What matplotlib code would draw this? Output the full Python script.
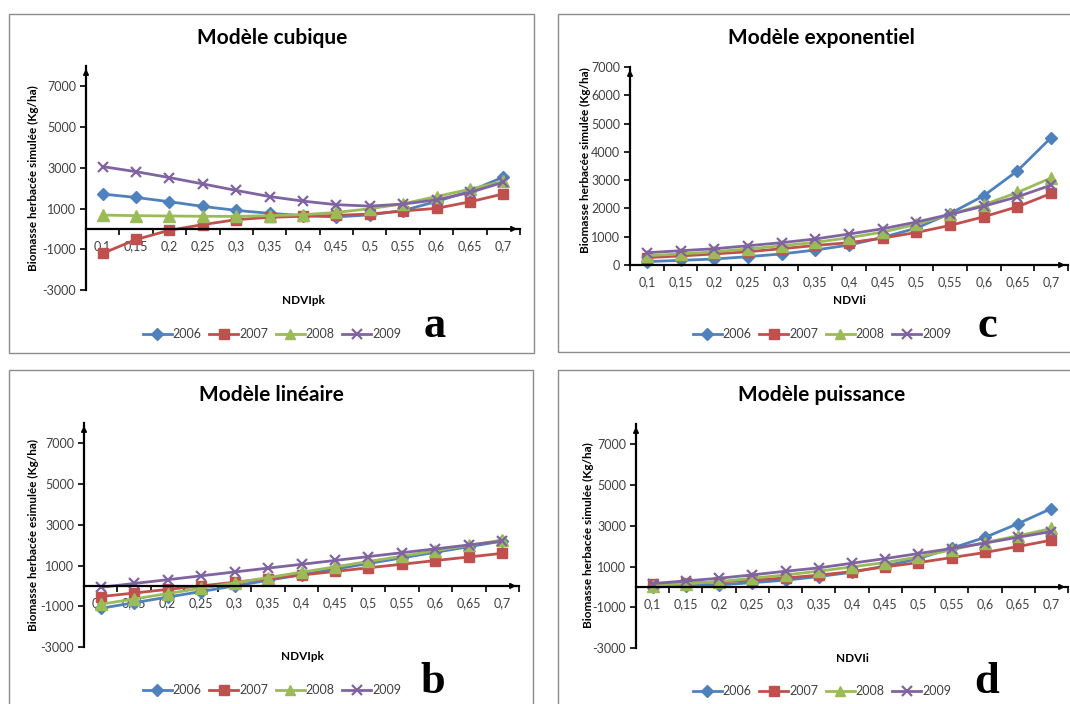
import numpy as np
import matplotlib
matplotlib.use("Agg")
import matplotlib.pyplot as plt
from matplotlib.patches import Rectangle

plt.rcParams['font.family'] = ['Lato', 'DejaVu Sans']

# Data
ndvi_labels = ["0,1", "0,15", "0,2", "0,25", "0,3", "0,35", "0,4",
               "0,45", "0,5", "0,55", "0,6", "0,65", "0,7"]
years = ["2006", "2007", "2008", "2009"]

# a - cubic model (NDVIpk)
cub_2006 = [1710, 1545, 1335, 1105, 910, 765, 650, 590, 690, 900, 1350, 1850, 2550]
cub_2007 = [-1200, -520, -65, 210, 455, 570, 620, 665, 730, 880, 1010, 1330, 1720]
cub_2008 = [680, 650, 635, 620, 615, 650, 700, 810, 990, 1235, 1590, 1950, 2330]
cub_2009 = [3060, 2810, 2520, 2210, 1890, 1590, 1365, 1190, 1120, 1220, 1430, 1790, 2290]

# b - linear model (NDVIpk)
lin_2006 = [-1100, -825, -550, -275, 0, 275, 550, 825, 1100, 1375, 1650, 1925, 2200]
lin_2007 = [-525, -350, -170, 0, 180, 360, 535, 710, 890, 1065, 1245, 1420, 1600]
lin_2008 = [-900, -640, -375, -115, 150, 410, 675, 935, 1200, 1460, 1725, 1990, 2250]
lin_2009 = [-70, 120, 305, 495, 685, 875, 1060, 1250, 1440, 1630, 1820, 2010, 2200]

# c - exponential model (NDVIi)
exp_2006 = [120, 165, 210, 295, 390, 530, 705, 975, 1305, 1820, 2450, 3330, 4505]
exp_2007 = [260, 320, 390, 470, 575, 690, 790, 950, 1150, 1400, 1705, 2060, 2530]
exp_2008 = [330, 390, 470, 565, 680, 800, 965, 1165, 1435, 1790, 2130, 2565, 3080]
exp_2009 = [435, 505, 575, 680, 790, 920, 1095, 1280, 1520, 1790, 2080, 2410, 2825]

# d - power model (NDVIi)
pow_2006 = [0, 50, 100, 210, 330, 510, 720, 1030, 1390, 1900, 2430, 3110, 3850]
pow_2007 = [130, 180, 245, 330, 440, 575, 755, 985, 1195, 1440, 1690, 1985, 2295]
pow_2008 = [50, 165, 260, 425, 590, 770, 985, 1195, 1475, 1820, 2180, 2510, 2870]
pow_2009 = [165, 295, 425, 590, 770, 935, 1165, 1390, 1640, 1885, 2150, 2440, 2720]

colors = ["#4F81BD", "#C0504D", "#9BBB59", "#8064A2"]
markers = ["D", "s", "^", "x"]
msizes = [6.5, 7.5, 8, 7.5]
label_col = "#404040"

W, H = 1070, 704
fig = plt.figure(figsize=(W / 100, H / 100), dpi=100)


def fx(x):
    return x / W


def fy(y):
    return 1 - y / H


def panel(box, axbox, title, title_xy, series, ylim, yticks, ylabel,
          xlabel, xlabel_xy, ylabel_xy, legend_xy, letter, letter_xy):
    bl, bt, br, bb = box
    fig.patches.append(Rectangle((fx(bl), fy(bb)), fx(br - bl), (bb - bt) / H,
                                 transform=fig.transFigure, fill=False,
                                 edgecolor="#8c8c8c", lw=1.0))
    l, r, t, b = axbox
    ax = fig.add_axes([fx(l), fy(b), fx(r - l), (b - t) / H])
    x = np.arange(len(ndvi_labels))
    for vals, yr, c, m, ms in zip(series, years, colors, markers, msizes):
        ax.plot(x, vals, color=c, lw=2, marker=m, ms=ms, mew=1.6 if m == "x" else 1,
                mec=c, label=yr, clip_on=False)
    ax.set_xlim(-0.5, len(ndvi_labels) - 0.5)
    ax.set_ylim(*ylim)
    ax.set_yticks(yticks)
    ax.set_yticklabels([str(v) for v in yticks])
    ax.set_xticks(x)
    ax.set_xticklabels(ndvi_labels)
    ax.set_xticks(np.arange(-0.5, len(ndvi_labels)), minor=True)
    for s in ["top", "right"]:
        ax.spines[s].set_visible(False)
    ax.spines["bottom"].set_position(("data", 0))
    ax.spines["left"].set_linewidth(1.6)
    ax.spines["bottom"].set_linewidth(1.6)
    ax.tick_params(axis="x", which="major", length=0, pad=8, labelsize=9,
                   labelcolor=label_col)
    ax.tick_params(axis="x", which="minor", length=4, width=1.2, direction="out")
    ax.tick_params(axis="y", length=4, width=1.2, pad=3, labelsize=9,
                   labelcolor=label_col)
    ax.set_facecolor("none")
    # arrow heads on axes
    ax.annotate("", xy=(0, 1.0), xytext=(0, 0.96), xycoords="axes fraction",
                arrowprops=dict(arrowstyle="-|>", color="black", lw=1.2,
                                mutation_scale=8))
    ax.annotate("", xy=(1.0, 0), xytext=(0.97, 0), xycoords=ax.get_yaxis_transform(),
                arrowprops=dict(arrowstyle="-|>", color="black", lw=1.2,
                                mutation_scale=8))
    fig.text(fx(title_xy[0]), fy(title_xy[1]), title, ha="center", va="center",
             fontsize=15, fontweight="bold")
    fig.text(fx(ylabel_xy[0]), fy(ylabel_xy[1]), ylabel, ha="center", va="center",
             rotation=90, fontsize=8.5, fontweight="bold")
    fig.text(fx(xlabel_xy[0]), fy(xlabel_xy[1]), xlabel, ha="center", va="center",
             fontsize=8.5, fontweight="bold")
    fig.text(fx(letter_xy[0]), fy(letter_xy[1]), letter, ha="center", va="baseline",
             fontsize=32, fontweight="bold", family="Liberation Serif")
    ax.legend(loc="center", bbox_to_anchor=(fx(legend_xy[0]), fy(legend_xy[1])),
              bbox_transform=fig.transFigure, ncol=4, frameon=False,
              fontsize=9, labelcolor=label_col, handlelength=2.3,
              handletextpad=0.1, columnspacing=0.6, markerscale=0.9)
    return ax


ylab_sim = "Biomasse herbacée simulée (Kg/ha)"
ylab_esim = "Biomasse herbacée esimulée (Kg/ha)"
yt_wide = [-3000, -1000, 1000, 3000, 5000, 7000]

panel((9, 14, 534, 353), (86, 520, 66, 290), "Modèle cubique", (272, 38),
      [cub_2006, cub_2007, cub_2008, cub_2009], (-3000, 8000), yt_wide, ylab_sim,
      "NDVIpk", (303, 300), (33, 178), (272, 334), "a", (435, 337))

panel((558, 14, 1075, 352), (630, 1068, 67, 265), "Modèle exponentiel", (821, 38),
      [exp_2006, exp_2007, exp_2008, exp_2009], (0, 7000),
      [0, 1000, 2000, 3000, 4000, 5000, 6000, 7000], ylab_sim,
      "NDVIi", (849, 300), (585, 160), (822, 334), "c", (987, 337))

panel((9, 370, 533, 710), (84, 519, 423, 647), "Modèle linéaire", (271, 395),
      [lin_2006, lin_2007, lin_2008, lin_2009], (-3000, 8000), yt_wide, ylab_esim,
      "NDVIpk", (302, 657), (33, 535), (272, 690), "b", (433, 693))

panel((558, 370, 1075, 710), (636, 1068, 424, 648), "Modèle puissance", (822, 395),
      [pow_2006, pow_2007, pow_2008, pow_2009], (-3000, 8000), yt_wide, ylab_sim,
      "NDVIi", (852, 658), (588, 535), (822, 691), "d", (987, 693))

fig.savefig("out.png", dpi=100)
